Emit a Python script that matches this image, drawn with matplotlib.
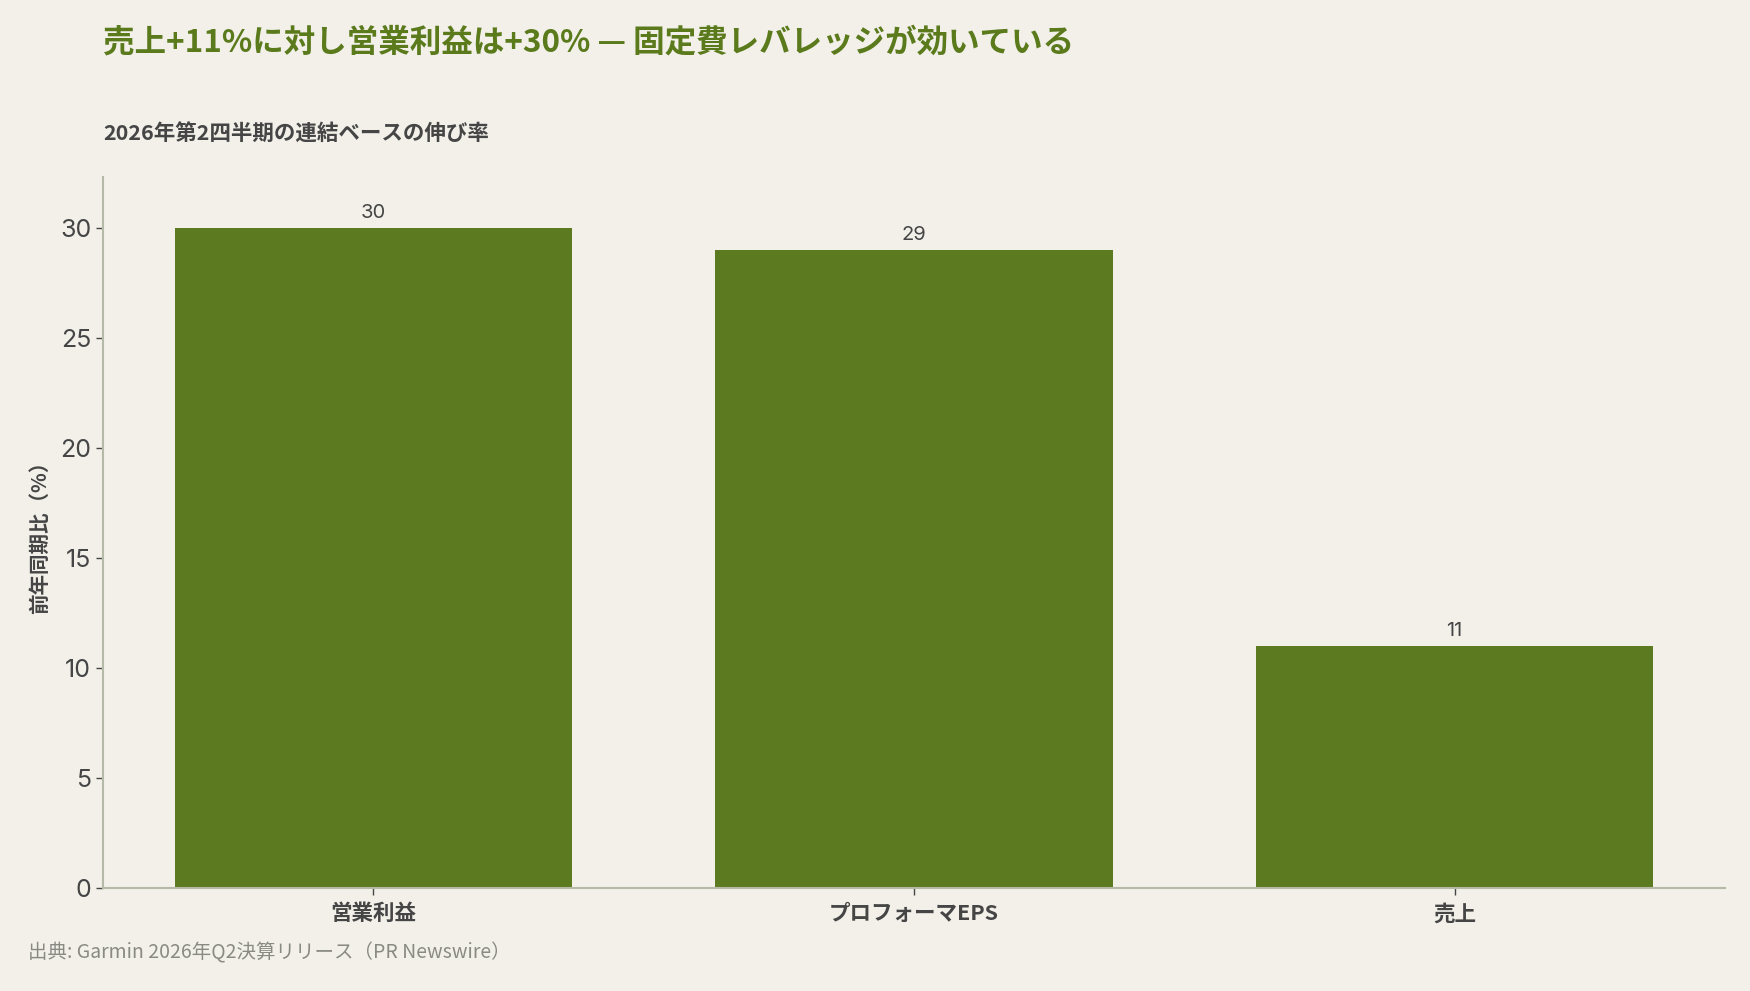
import matplotlib
matplotlib.use("Agg")
import matplotlib.pyplot as plt

# data
categories = ["営業利益", "プロフォーマEPS", "売上"]
growth_pct = [30, 29, 11]

title = "売上+11%に対し営業利益は+30% — 固定費レバレッジが効いている"
subtitle = "2026年第2四半期の連結ベースの伸び率"
ylabel = "前年同期比（%）"
source = "出典: Garmin 2026年Q2決算リリース（PR Newswire）"

bg = "#f2f0e9"
bar_color = "#5c7a1f"
text_dark = "#454545"
spine_col = "#b4baa6"

plt.rcParams['font.family'] = ['Noto Sans CJK JP', 'DejaVu Sans']

fig = plt.figure(figsize=(17.5, 9.91), dpi=100, facecolor=bg)
ax = fig.add_axes([0.0589, 0.1039, 0.9268, 0.7175])
ax.set_facecolor(bg)

x = range(len(categories))
bars = ax.bar(x, growth_pct, width=0.735, color=bar_color, zorder=2)

for xi, v in zip(x, growth_pct):
    ax.annotate(f"{v}", (xi, v), xytext=(0, 4), textcoords="offset points",
                ha="center", va="bottom", fontsize=14.5, color=text_dark,
                family=['Inter', 'Noto Sans CJK JP'])

ax.set_xlim(-0.5, 2.5)
ax.set_ylim(0, 32.3)
ax.set_yticks([0, 5, 10, 15, 20, 25, 30])
ax.set_xticks(list(x))
ax.set_xticklabels(categories, fontsize=15.5, fontweight="bold", color=text_dark)
for lab in ax.get_yticklabels():
    lab.set_family(['Inter', 'Noto Sans CJK JP'])
ax.tick_params(axis="y", labelsize=18, colors=text_dark, length=5, width=1)
ax.tick_params(axis="x", colors=text_dark, length=5, width=1, pad=6)

for s in ["top", "right"]:
    ax.spines[s].set_visible(False)
for s in ["left", "bottom"]:
    ax.spines[s].set_color(spine_col)
    ax.spines[s].set_linewidth(1.5)

ax.set_ylabel(ylabel, fontsize=14.8, fontweight="bold", color=text_dark)
ax.yaxis.set_label_coords(-0.033, 0.5)

fig.text(0.0589, 0.957, title, fontsize=22.7, fontweight="bold", color="#5a7a1c", va="center")
fig.text(0.0589, 0.864, subtitle, fontsize=15.5, fontweight="bold", color=text_dark, va="center")
fig.text(0.016, 0.038, source, fontsize=14, color="#8a8a84", va="center")

fig.savefig("out.png", dpi=100, facecolor=bg)
